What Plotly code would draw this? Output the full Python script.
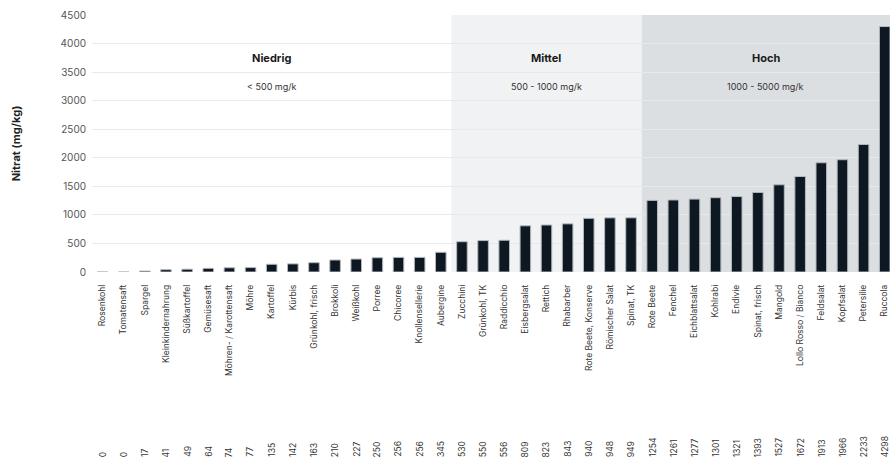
import plotly.graph_objects as go

categories = ["Rosenkohl", "Tomatensaft", "Spargel", "Kleinkindernahrung", "Süßkartoffel",
              "Gemüsesaft", "Möhren- / Karottensaft", "Möhre", "Kartoffel", "Kürbis",
              "Grünkohl, frisch", "Brokkoli", "Weißkohl", "Porree", "Chicoree",
              "Knollensellerie", "Aubergine", "Zucchini", "Grünkohl, TK", "Raddicchio",
              "Eisbergsalat", "Rettich", "Rhabarber", "Rote Beete, Konserve", "Römischer Salat",
              "Spinat, TK", "Rote Beete", "Fenchel", "Eichblattsalat", "Kohlrabi",
              "Endivie", "Spinat, frisch", "Mangold", "Lollo Rosso / Bianco", "Feldsalat",
              "Kopfsalat", "Petersilie", "Ruccola"]
values = [0, 0, 17, 41, 49, 64, 74, 77, 135, 142, 163, 210, 227, 250, 256, 256, 345,
          530, 550, 556, 809, 823, 843, 940, 948, 949, 1254, 1261, 1277, 1301, 1321,
          1393, 1527, 1672, 1913, 1966, 2233, 4298]

zone_names = ["Niedrig", "Mittel", "Hoch"]
zone_ranges = ["< 500 mg/k", "500 - 1000 mg/k", "1000 - 5000 mg/k"]
zone_bounds = [(-0.5, 16.5), (16.5, 25.5), (25.5, 37.25)]
zone_colors = ["rgba(0,0,0,0)", "#f1f2f4", "#dcdfe2"]

FONT = "Inter, Roboto, sans-serif"
idx = list(range(len(categories)))

fig = go.Figure()
fig.add_trace(go.Bar(x=idx, y=values, width=0.5,
                     marker=dict(color="#0e1822", line=dict(width=1, color="#b5b8bc")),
                     hoverinfo="skip"))

for (x0, x1), col, name, rng in zip(zone_bounds, zone_colors, zone_names, zone_ranges):
    fig.add_shape(type="rect", xref="x", yref="y", x0=x0, x1=x1, y0=0, y1=4500,
                  fillcolor=col, line=dict(width=0), layer="below")
    xc = (x0 + x1) / 2
    fig.add_annotation(x=xc, y=3750, xref="x", yref="y", text="<b>" + name + "</b>",
                       showarrow=False, font=dict(family=FONT, size=11, color="#1a1a1a"))
    fig.add_annotation(x=xc, y=3250, xref="x", yref="y", text=rng,
                       showarrow=False, font=dict(family=FONT, size=9, color="#333"))

for i, v in zip(idx, values):
    fig.add_annotation(x=i, y=-0.728, xref="x", yref="paper", text=str(v), textangle=-90,
                       showarrow=False, xanchor="center", yanchor="bottom",
                       font=dict(family=FONT, size=8.5, color="#333"))

fig.update_layout(
    width=890, height=466,
    margin=dict(l=92, r=0, t=15, b=194, autoexpand=False),
    paper_bgcolor="white", plot_bgcolor="white",
    showlegend=False,
    font=dict(family=FONT),
    bargap=0.5,
)
fig.update_xaxes(range=[-0.5, 37.25], tickmode="array", tickvals=idx, ticktext=categories,
                 tickangle=-90, tickfont=dict(family=FONT, size=8.5, color="#333"),
                 showgrid=False, showline=False, zeroline=False, ticks="",
                 ticklabelstandoff=10, automargin=False)
fig.update_yaxes(range=[0, 4500], dtick=500, showgrid=True, gridcolor="#e9e9e9", gridwidth=1,
                 zeroline=False, showline=False, ticks="",
                 tickfont=dict(family=FONT, size=10, color="#555"),
                 ticklabelstandoff=5, automargin=False,
                 title=dict(text="<b>Nitrat (mg/kg)</b>", font=dict(family=FONT, size=11, color="#222"),
                            standoff=37))

fig.write_html("out.html", config={"displayModeBar": False},
               post_script="document.body.style.margin='0';document.body.style.overflow='hidden';")
